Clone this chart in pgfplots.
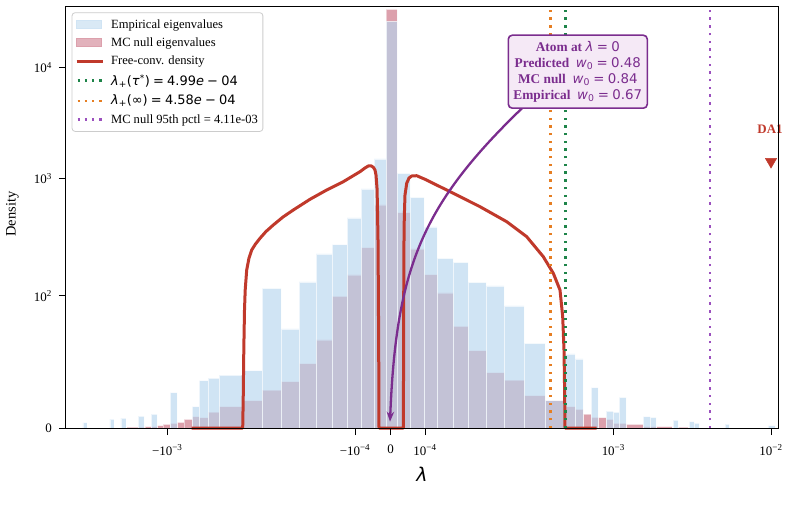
\documentclass[border=0pt]{standalone}
\usepackage{fontspec}
\setmainfont{Liberation Serif}
\newfontfamily\djv{DejaVu Sans}
\usepackage{pgfplots}
\pgfplotsset{compat=1.18}
\usetikzlibrary{arrows.meta}
\definecolor{empblue}{RGB}{182,213,238}
\definecolor{mcred}{RGB}{185,65,89}
\definecolor{curvered}{RGB}{192,57,43}
\definecolor{tgreen}{RGB}{30,132,73}
\definecolor{torange}{RGB}{230,126,34}
\definecolor{tpurple}{RGB}{155,80,190}
\definecolor{annpurple}{RGB}{123,45,142}
\definecolor{annfill}{RGB}{245,233,246}
\definecolor{legemp}{RGB}{208,228,244}
\definecolor{legmc}{RGB}{220,160,172}
\newcommand{\msp}{\hspace{0.25em}}
\begin{document}
\begin{tikzpicture}
\useasboundingbox (-66bp,-83bp) rectangle (724bp,428bp);
\begin{axis}[
  at={(0,0)}, anchor=south west,
  scale only axis, width=712bp, height=421bp,
  xmin=-324.5, xmax=387.5, ymin=0, ymax=421,
  clip=false, axis on top,
  axis line style={line width=1bp},
  tick pos=left, tick align=outside,
  major tick length=7bp,
  every tick/.style={black, line width=1bp},
  xtick={-223.2,-35.5,0,34.5,222.8,380.5},
  xticklabels={{−10\textsuperscript{−3}},{−10\textsuperscript{−4}},0,{10\textsuperscript{−4}},{10\textsuperscript{−3}},{10\textsuperscript{−2}}},
  ytick={0,132,249.7,360.3},
  yticklabels={0,{10\textsuperscript{2}},{10\textsuperscript{3}},{10\textsuperscript{4}}},
  ticklabel style={font=\fontsize{13}{15}\selectfont},
  xticklabel style={anchor=north, inner sep=0pt, yshift=-9.5bp},
  yticklabel style={anchor=east, inner sep=0pt, xshift=-7bp},
  xlabel={\djv\itshape λ},
  xlabel style={at={(rel axis cs:0.5,0)}, anchor=center, yshift=-46bp, font=\fontsize{19}{22}\selectfont},
  ylabel={Density},
  ylabel style={at={(axis cs:-324.5,214)}, anchor=center, yshift=53.5bp, font=\fontsize{14.5}{16}\selectfont},
  legend style={at={(rel axis cs:0,1)}, anchor=north west, xshift=5.7bp, yshift=-5.3bp,
    draw=black!20, line width=0.8bp, rounded corners=3bp, fill=white, fill opacity=0.8,
    draw opacity=1, text opacity=1, font=\fontsize{12.6}{15}\selectfont,
    inner xsep=3bp, inner ysep=4.8bp, row sep=4.1bp, cells={anchor=west},
    /tikz/every odd column/.append style={column sep=5bp}},
  legend cell align=left,
]
% MC null histogram (drawn first)
\addplot[forget plot, ybar interval, fill=mcred, draw=white, line width=0.5bp, opacity=0.5]
coordinates {(-263.5,1) (-245.5,1.5) (-233.5,2.3) (-227.5,3.7) (-220.5,4.7) (-213.5,5.7) (-206.5,8.7) (-198.5,11.3) (-191.5,10.3) (-182.5,16) (-171.5,21.3) (-148.5,27.3) (-128.5,38) (-109.5,46.3) (-91.5,64.3) (-74.5,88) (-58.5,131.7) (-43.5,153) (-29.5,180.3) (-16.5,223) (-4.5,418.7) (6.5,215.3) (19.5,179) (33.5,153.3) (46.5,135) (62.5,101.7) (77.5,77.3) (95.5,55.3) (113.5,48) (133.5,32.3) (154.5,27.3) (174.5,21.3) (184.5,18.7) (192.5,14) (200.5,10.7) (207.5,10.3) (215.5,8.7) (222.5,4.7) (228.5,4.7) (235.5,3.7) (252.5,1.5) (265.5,1.3) (281.5,0) (287.5,1) (297.5,0)};
% Empirical histogram
\addplot[forget plot, ybar interval, fill=empblue, draw=white, line width=0.5bp, opacity=0.64]
coordinates {(-307.5,5.3) (-303.5,0) (-280.5,9) (-276.5,0) (-269.5,10) (-264.5,0) (-252.5,12) (-246.5,0) (-239.5,14) (-233.5,0) (-220.5,35.3) (-213.5,0) (-198.5,21.3) (-191.5,47.3) (-182.5,50) (-171.5,53) (-148.5,57.3) (-128.5,139.7) (-109.5,99) (-91.5,146) (-74.5,174) (-58.5,183.3) (-43.5,210) (-29.5,239) (-16.5,269) (-4.5,406.7) (6.5,254.7) (19.5,230.7) (33.5,201) (46.5,169.7) (62.5,165.7) (77.5,145.7) (95.5,142) (113.5,122) (133.5,84.7) (154.5,27.5) (174.5,74) (184.5,69) (192.5,0) (200.5,40.3) (207.5,0) (215.5,17) (222.5,16) (228.5,30.7) (235.5,0) (252.5,11.3) (259.5,10.7) (265.5,0) (282.5,8) (287.5,0) (298.5,6.3) (303.5,5) (308.5,0) (334.5,4) (338.5,0) (377.5,2.3) (384.5,0)};
% Free-convolution density
\addplot[forget plot, curvered, line width=3bp, line join=round, mark=none]
coordinates {(-198.8,0) (-147.8,0) (-147.3,28) (-146.7,78) (-146,118) (-145.3,138) (-143.8,158) (-141.5,170) (-138.8,178) (-135,184) (-130.5,189.7) (-124.5,196.5) (-117.2,203) (-107.5,211) (-97.2,218) (-80.5,228.7) (-63.8,238) (-47.2,246.3) (-30.5,256.3) (-25.5,260) (-22.2,262) (-19.5,262.2) (-17.2,260.7) (-15.5,258) (-14.5,253) (-13.5,240) (-13.2,228) (-12.5,188) (-12.2,145) (-11.8,78) (-11.5,0) (12.8,0) (13,48) (13.2,128) (13.5,188) (13.8,211.3) (14.5,233) (16.2,244.7) (18.5,250) (21.2,252) (26.2,252.3) (34.5,248.7) (56.2,238) (89.5,221.3) (116.2,206.3) (136.2,191.3) (152.8,171.3) (162.8,154.7) (169.5,138) (172.2,111.3) (173.5,78) (174.1,38) (174.5,0) (206.2,0)};
% threshold lines
\addplot[forget plot, tgreen, line width=2.4bp, dash pattern=on 2.4bp off 5.3bp] coordinates {(174.8,0) (174.8,421)};
\addplot[forget plot, torange, line width=2.4bp, dash pattern=on 2.4bp off 5.3bp] coordinates {(160,0) (160,421)};
\addplot[forget plot, tpurple, line width=2.4bp, dash pattern=on 2.4bp off 5.3bp] coordinates {(319.2,0) (319.2,421)};
% DA1 marker
\addplot[forget plot, only marks, mark=triangle*, mark size=6.5bp, mark options={rotate=180, fill=curvered, draw=curvered}] coordinates {(380.5,266.3)};
\node[text=curvered, font=\bfseries\fontsize{13}{15}\selectfont] at (axis cs:379.5,299) {DA1};
% annotation arrow and box
\draw[annpurple, line width=2.3bp, -{Stealth[length=10bp,width=7.5bp]}]
  (axis cs:132.8,321) .. controls (axis cs:32.3,224.3) and (axis cs:5.7,162) .. (axis cs:-0.5,6.3);
\node[draw=annpurple, line width=1.6bp, fill=annfill, rounded corners=4bp, minimum width=139bp, minimum height=73bp, inner sep=0pt, align=center, text=annpurple, font=\fontsize{13.4}{16}\selectfont]
  at (axis cs:187.3,356.3) {\textbf{Atom at} {\djv\textit{λ}\msp=\msp0}\\ \textbf{Predicted}~~{\djv\textit{w}\textsubscript{0}\msp=\msp0.48}\\ \textbf{MC null}~~{\djv\textit{w}\textsubscript{0}\msp=\msp0.84}\\ \textbf{Empirical}~~{\djv\textit{w}\textsubscript{0}\msp=\msp0.67}};
% legend
\addlegendimage{legend image code/.code={\fill[legemp, sharp corners] (0bp,-4bp) rectangle (25bp,4bp);}}
\addlegendentry{Empirical eigenvalues}
\addlegendimage{legend image code/.code={\fill[legmc, sharp corners] (0bp,-4bp) rectangle (25bp,4bp);}}
\addlegendentry{MC null eigenvalues}
\addlegendimage{legend image code/.code={\draw[curvered, sharp corners, line width=3bp] (0bp,0bp) -- (26bp,0bp);}}
\addlegendentry{Free-conv. density}
\addlegendimage{legend image code/.code={\draw[tgreen, sharp corners, line width=2.3bp, dash pattern=on 2.3bp off 5bp] (1bp,0bp) -- (25bp,0bp);}}
\addlegendentry{{\djv\fontsize{13}{15}\selectfont\textit{λ}\textsubscript{+}(\textit{τ}\textsuperscript{*})\msp=\msp4.99\textit{e}\msp−\msp04}}
\addlegendimage{legend image code/.code={\draw[torange, sharp corners, line width=2.3bp, dash pattern=on 2.3bp off 5bp] (1bp,0bp) -- (25bp,0bp);}}
\addlegendentry{{\djv\fontsize{13}{15}\selectfont\textit{λ}\textsubscript{+}(∞)\msp=\msp4.58\textit{e}\msp−\msp04}}
\addlegendimage{legend image code/.code={\draw[tpurple, sharp corners, line width=2.3bp, dash pattern=on 2.3bp off 5bp] (1bp,0bp) -- (25bp,0bp);}}
\addlegendentry{MC null 95th pctl = 4.11e-03}
\end{axis}
\end{tikzpicture}
\end{document}
